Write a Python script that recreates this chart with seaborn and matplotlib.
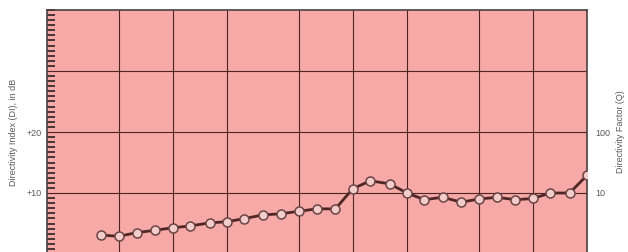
import numpy as np
import pandas as pd
import matplotlib
matplotlib.use("Agg")
import matplotlib.pyplot as plt
from matplotlib.ticker import MultipleLocator, NullFormatter
import seaborn as sns

# 1/3-octave band centres (Hz) and directivity index (dB)
freqs = [40, 50, 63, 80, 100, 125, 160, 200, 250, 315, 400, 500, 630, 800,
         1000, 1250, 1600, 2000, 2500, 3150, 4000, 5000, 6300, 8000,
         10000, 12500, 16000, 20000]
di_db = [3.1, 2.9, 3.5, 3.9, 4.3, 4.6, 5.1, 5.3, 5.8, 6.4, 6.6, 7.0, 7.4, 7.4,
         10.7, 12.0, 11.5, 10.0, 8.9, 9.3, 8.5, 9.0, 9.3, 8.9,
         9.1, 10.0, 10.0, 12.9]

grid_freqs = [50, 100, 200, 500, 1000, 2000, 5000, 10000]
left_ticks = [0, 10, 20]
left_labels = ["0", "+10", "+20"]
right_labels = ["0", "10", "100"]

df = pd.DataFrame({"freq": freqs, "di": di_db})

sns.set_style("white")
plt.rcParams['font.family'] = ['Liberation Sans', 'DejaVu Sans']

bg = "#f7a9a7"
grid_col = "#4e2424"
txt_col = "#5a5a5a"

fig = plt.figure(figsize=(6.28, 2.52), dpi=100)
# axes spans x 47..587 px, y 10..254 px (bottom runs just past the image edge)
ax = fig.add_axes([47 / 628, -2 / 252, 540 / 628, 244 / 252])
ax.set_facecolor(bg)

sns.lineplot(data=df, x="freq", y="di", ax=ax, color="#4f2626", linewidth=2,
             marker="o", markersize=6.5, markerfacecolor="#f3cccc",
             markeredgecolor="#6b4545", markeredgewidth=1.1, zorder=5)

ax.set_xscale("log")
ax.set_xlim(20, 20000)
ax.set_ylim(0, 40)

# vertical grid lines
ax.set_xticks(grid_freqs)
ax.xaxis.set_minor_locator(matplotlib.ticker.NullLocator())
ax.xaxis.set_major_formatter(NullFormatter())
ax.tick_params(axis="x", length=0)

# horizontal grid lines every 10 dB
ax.set_yticks([0, 10, 20, 30])
ax.set_yticklabels(left_labels + [""], color=txt_col, fontsize=6.5)
ax.yaxis.set_minor_locator(MultipleLocator(10 / 12))
ax.tick_params(axis="y", which="both", direction="in", left=True, right=False,
               length=6, width=1.3, color="#3a2a2a", pad=4)
ax.tick_params(axis="y", which="major", length=0)

ax.grid(True, which="major", color=grid_col, linewidth=0.8)
ax.set_axisbelow(True)

for side in ["left", "top", "right", "bottom"]:
    ax.spines[side].set_color("#4a4040")
    ax.spines[side].set_linewidth(1.2)

ax.set_xlabel("")
ax.set_ylabel("Directivity Index (DI), in dB", color=txt_col, fontsize=6.5, labelpad=6)

# right axis: directivity factor Q
ax2 = ax.twinx()
ax2.set_ylim(ax.get_ylim())
ax2.set_yticks(left_ticks)
ax2.set_yticklabels(right_labels, color=txt_col, fontsize=6.5)
ax2.tick_params(axis="y", length=0, pad=6)
for side in ["left", "top", "right", "bottom"]:
    ax2.spines[side].set_visible(False)
ax2.set_ylabel("Directivity Factor (Q)", color=txt_col, fontsize=6.5, labelpad=4)

fig.savefig("out.png", dpi=100, facecolor="white")
